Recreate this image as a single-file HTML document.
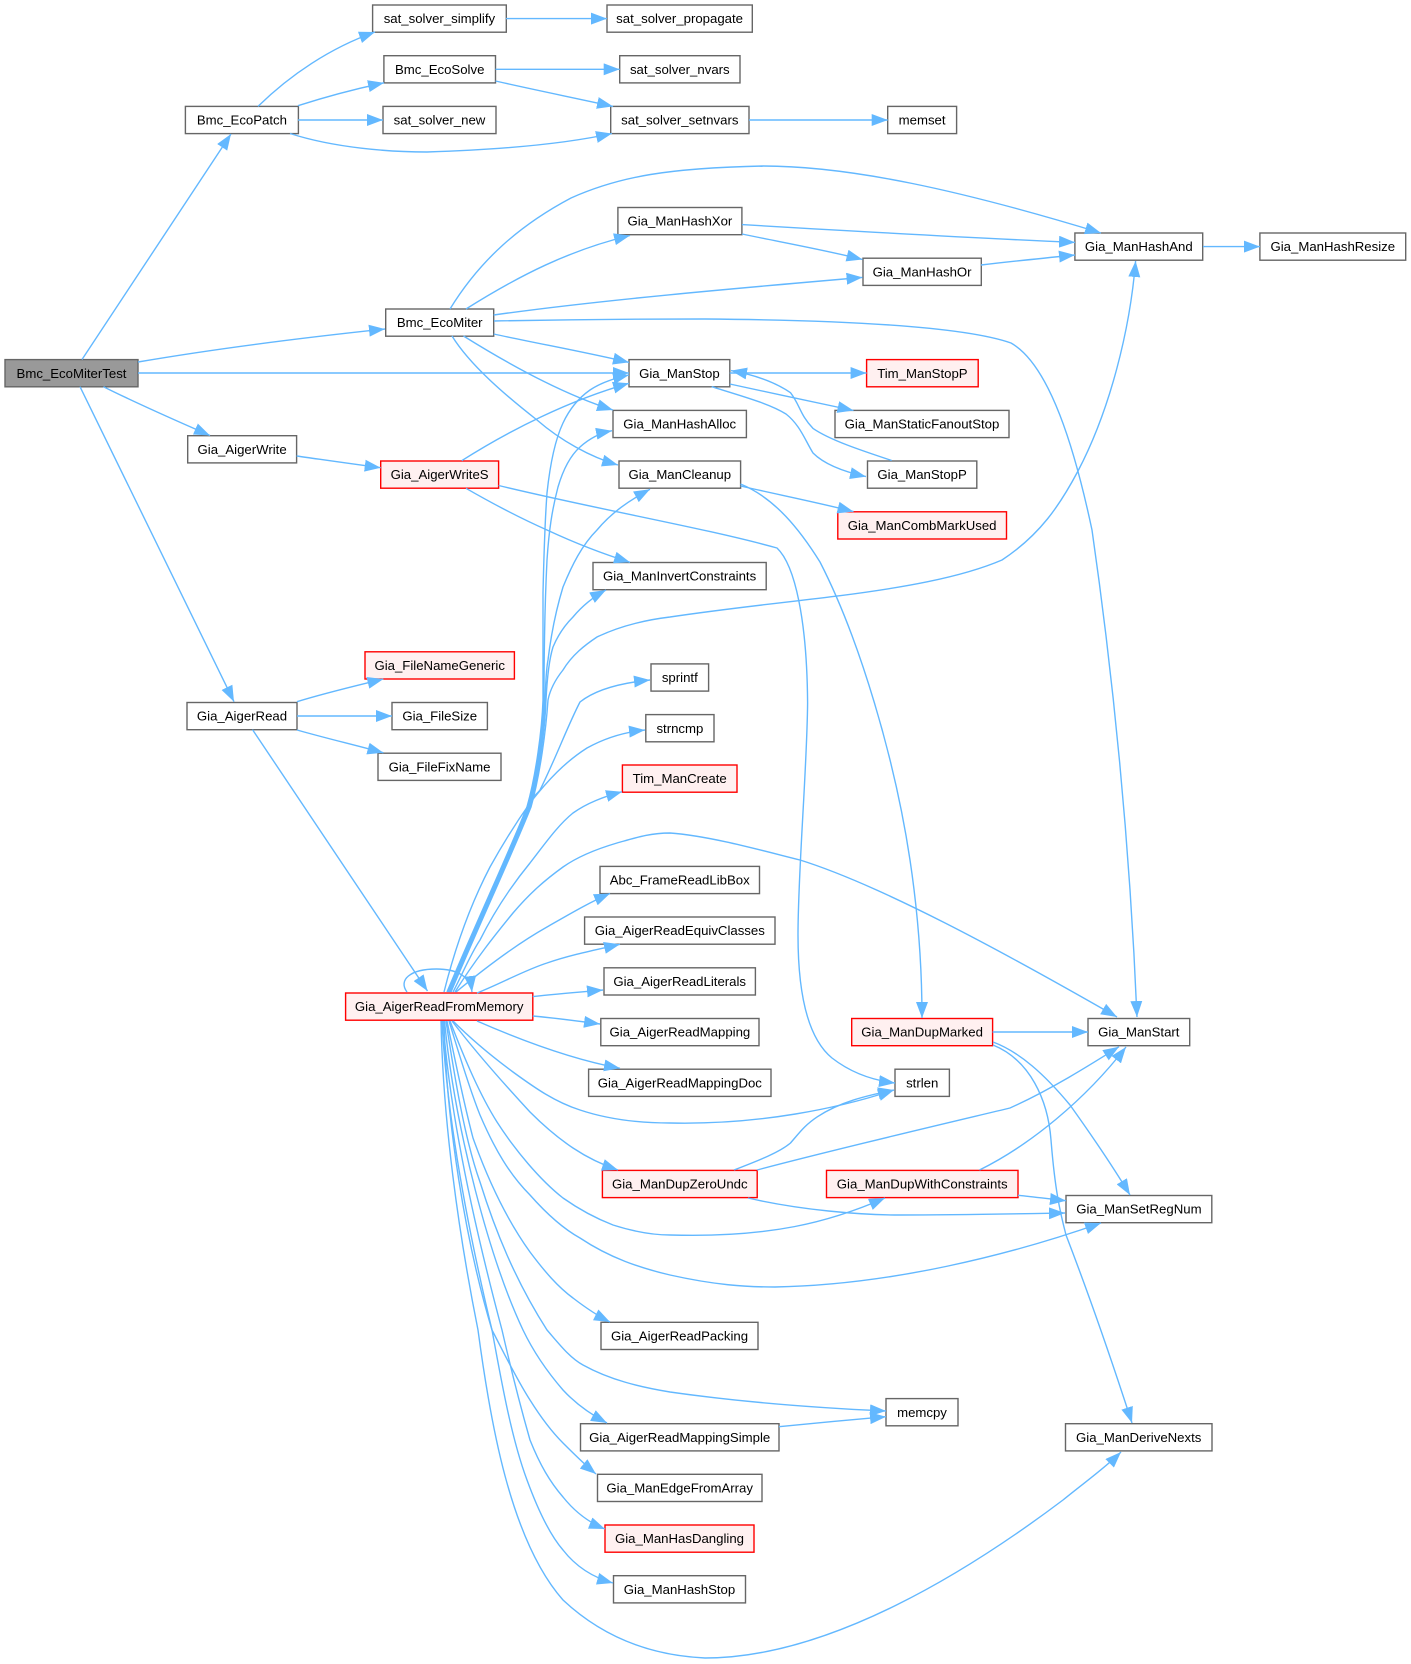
<!DOCTYPE html>
<html><head><meta charset="utf-8"><style>
html,body{margin:0;padding:0;background:#fff}
svg{display:block}
text{font-family:"Liberation Sans",Arial,sans-serif;font-size:13.2px;text-anchor:middle;fill:#000}
.n rect{fill:#fff;stroke:#666;stroke-width:1.4}
.r rect{fill:#FFF0F0;stroke:#f00;stroke-width:1.4}
.e path{fill:none;stroke:#63B8FF;stroke-width:1.4;marker-end:url(#a)}
</style></head><body>
<svg width="1411" height="1664" viewBox="0 0 1411 1664" xmlns="http://www.w3.org/2000/svg">
<defs><marker id="a" markerUnits="userSpaceOnUse" markerWidth="16" markerHeight="12" viewBox="0 0 16 12" refX="16" refY="6" orient="auto"><polygon points="0,0 16,6 0,12" fill="#63B8FF" stroke="none"/></marker></defs>
<g class="n">
<rect x="5" y="359.6" width="133" height="27.2" style="fill:#999"/>
<rect x="372.6" y="5" width="133.7" height="27.2"/>
<rect x="607" y="5" width="145.3" height="27.2"/>
<rect x="383.9" y="55.7" width="111.6" height="27.2"/>
<rect x="619.7" y="55.7" width="120.3" height="27.2"/>
<rect x="185.4" y="106.4" width="113" height="27.2"/>
<rect x="383" y="106.4" width="113" height="27.2"/>
<rect x="610.7" y="106.4" width="138.3" height="27.2"/>
<rect x="887.7" y="106.4" width="68.9" height="27.2"/>
<rect x="617.9" y="207.5" width="124" height="27.2"/>
<rect x="1074.9" y="233" width="127.8" height="27.2"/>
<rect x="1259.9" y="233" width="145.8" height="27.2"/>
<rect x="863" y="258.2" width="118.3" height="27.2"/>
<rect x="385.7" y="309" width="108" height="27.2"/>
<rect x="629" y="359.6" width="100.8" height="27.2"/>
<rect x="613" y="410.4" width="133.4" height="27.2"/>
<rect x="835" y="410.4" width="174" height="27.2"/>
<rect x="187.7" y="435.7" width="108.9" height="27.2"/>
<rect x="619" y="461" width="121.6" height="27.2"/>
<rect x="867.5" y="461" width="109.3" height="27.2"/>
<rect x="593" y="562.5" width="173.2" height="27.2"/>
<rect x="187" y="702.5" width="110" height="27.2"/>
<rect x="392" y="702.5" width="95.4" height="27.2"/>
<rect x="378" y="753.2" width="123" height="27.2"/>
<rect x="651" y="663.9" width="57.6" height="27.2"/>
<rect x="645.8" y="714.6" width="68.2" height="27.2"/>
<rect x="600" y="866.4" width="159.5" height="27.2"/>
<rect x="584.6" y="917" width="190.4" height="27.2"/>
<rect x="604" y="967.8" width="151.4" height="27.2"/>
<rect x="600.8" y="1018.5" width="158.2" height="27.2"/>
<rect x="1088" y="1018.5" width="101.7" height="27.2"/>
<rect x="588.6" y="1069.2" width="182.4" height="27.2"/>
<rect x="895" y="1069.2" width="54.4" height="27.2"/>
<rect x="1066" y="1195.5" width="145.8" height="27.2"/>
<rect x="601" y="1322.3" width="157" height="27.2"/>
<rect x="886" y="1398.6" width="72" height="27.2"/>
<rect x="580.5" y="1423.7" width="198.5" height="27.2"/>
<rect x="1065.5" y="1423.7" width="146.5" height="27.2"/>
<rect x="597.5" y="1474.3" width="164.5" height="27.2"/>
<rect x="613.5" y="1575.7" width="132" height="27.2"/>
</g>
<g class="r">
<rect x="866.6" y="359.6" width="111.6" height="27.2"/>
<rect x="380.7" y="461" width="117.9" height="27.2"/>
<rect x="837.8" y="511.8" width="168.7" height="27.2"/>
<rect x="365" y="651.8" width="149.4" height="27.2"/>
<rect x="622.4" y="765" width="114.6" height="27.2"/>
<rect x="345.6" y="993" width="187.2" height="27.2"/>
<rect x="851.7" y="1018.5" width="140.9" height="27.2"/>
<rect x="602.4" y="1170.4" width="154.8" height="27.2"/>
<rect x="826.5" y="1170.4" width="191.5" height="27.2"/>
<rect x="605" y="1525" width="149" height="27.2"/>
</g>
<g>
<text x="71.5" y="378">Bmc_EcoMiterTest</text>
<text x="439.4" y="23.2">sat_solver_simplify</text>
<text x="679.6" y="23.2">sat_solver_propagate</text>
<text x="439.7" y="73.9">Bmc_EcoSolve</text>
<text x="679.8" y="73.9">sat_solver_nvars</text>
<text x="241.9" y="124.6">Bmc_EcoPatch</text>
<text x="439.5" y="124.6">sat_solver_new</text>
<text x="679.8" y="124.6">sat_solver_setnvars</text>
<text x="922.1" y="124.6">memset</text>
<text x="679.9" y="225.7">Gia_ManHashXor</text>
<text x="1138.8" y="251.2">Gia_ManHashAnd</text>
<text x="1332.8" y="251.2">Gia_ManHashResize</text>
<text x="922.1" y="276.4">Gia_ManHashOr</text>
<text x="439.7" y="327.2">Bmc_EcoMiter</text>
<text x="679.4" y="378">Gia_ManStop</text>
<text x="922.4" y="378">Tim_ManStopP</text>
<text x="679.7" y="428.6">Gia_ManHashAlloc</text>
<text x="922" y="428.6">Gia_ManStaticFanoutStop</text>
<text x="242.1" y="453.9">Gia_AigerWrite</text>
<text x="439.6" y="479.2">Gia_AigerWriteS</text>
<text x="679.8" y="479.2">Gia_ManCleanup</text>
<text x="922.1" y="479.2">Gia_ManStopP</text>
<text x="922.1" y="530">Gia_ManCombMarkUsed</text>
<text x="679.6" y="580.7">Gia_ManInvertConstraints</text>
<text x="439.7" y="670">Gia_FileNameGeneric</text>
<text x="679.8" y="682.1">sprintf</text>
<text x="242" y="720.7">Gia_AigerRead</text>
<text x="439.7" y="720.7">Gia_FileSize</text>
<text x="679.9" y="732.8">strncmp</text>
<text x="439.5" y="771.4">Gia_FileFixName</text>
<text x="679.7" y="783.2">Tim_ManCreate</text>
<text x="679.7" y="884.6">Abc_FrameReadLibBox</text>
<text x="679.8" y="935.2">Gia_AigerReadEquivClasses</text>
<text x="679.7" y="986">Gia_AigerReadLiterals</text>
<text x="439.2" y="1011.2">Gia_AigerReadFromMemory</text>
<text x="679.9" y="1036.7">Gia_AigerReadMapping</text>
<text x="922.1" y="1036.7">Gia_ManDupMarked</text>
<text x="1138.8" y="1036.7">Gia_ManStart</text>
<text x="679.8" y="1087.4">Gia_AigerReadMappingDoc</text>
<text x="922.2" y="1087.4">strlen</text>
<text x="679.8" y="1188.6">Gia_ManDupZeroUndc</text>
<text x="922.2" y="1188.6">Gia_ManDupWithConstraints</text>
<text x="1138.9" y="1213.7">Gia_ManSetRegNum</text>
<text x="679.5" y="1340.5">Gia_AigerReadPacking</text>
<text x="922" y="1416.8">memcpy</text>
<text x="679.7" y="1441.9">Gia_AigerReadMappingSimple</text>
<text x="1138.7" y="1441.9">Gia_ManDeriveNexts</text>
<text x="679.7" y="1492.5">Gia_ManEdgeFromArray</text>
<text x="679.5" y="1543.2">Gia_ManHasDangling</text>
<text x="679.5" y="1593.9">Gia_ManHashStop</text>
</g>
<g class="e">
<path d="M82,359.5L231,134"/>
<path d="M138,362C220,348 300,338 385,329"/>
<path d="M138,373L629,373"/>
<path d="M103.5,386.7C140,405 175,420 210,435.5"/>
<path d="M80,386.7L234,701.7"/>
<path d="M258,106.4C290,75 330,48 375,32"/>
<path d="M298,105.7C325,97 355,89 384,82.8"/>
<path d="M298,120L383,120"/>
<path d="M290,133.5C335,148 390,152 427,152C490,150 560,145 612,133.5"/>
<path d="M506,18.6L607,18.6"/>
<path d="M495.5,69.3L619.7,69.3"/>
<path d="M495.5,81C535,90 575,98 613,106.4"/>
<path d="M749,120L887.7,120"/>
<path d="M450,309C480,260 520,225 571,198C620,176 670,168 763,166C850,166 960,190 1101,233"/>
<path d="M466,309C520,275 570,250 630,235.5"/>
<path d="M493.7,315C600,300 740,288 862.5,277.4"/>
<path d="M494,321C600,319 650,319 705,319C830,320 960,325 1011,343C1050,365 1075,450 1092,530C1115,690 1130,850 1137,1017"/>
<path d="M493.7,334C540,344 585,352 629,362.4"/>
<path d="M463.5,336C510,365 565,395 613,410"/>
<path d="M452,336C470,365 505,395 537,420C560,440 590,457 618,465"/>
<path d="M296.6,456C325,460 352,464 380.7,467.7"/>
<path d="M461.7,460.7C510,430 570,400 629,383.3"/>
<path d="M466,488.3C495,505 520,518 547,530C575,543 600,553 630,562.3"/>
<path d="M498.6,485.5C600,510 705,528 777,548C795,565 807,620 807.6,703C807,770 798,870 798,935C798,1000 810,1040 832,1058C850,1072 870,1080 895,1083"/>
<path d="M729.8,373L866.6,373"/>
<path d="M891.7,460.5C860,450 830,440 813,428.4C800,415 800,405 790.5,392.7C775,382 755,375 731,370.6"/>
<path d="M729.8,384C770,393 815,402 853.5,410.5"/>
<path d="M711.7,386.7C745,397 770,404 786,414C800,425 805,440 813,453C825,465 845,472 866,476.6"/>
<path d="M742,224.6C850,231 970,238 1075,242.4"/>
<path d="M742,234C780,242 825,250 862.5,259.5"/>
<path d="M981,265C1015,261 1045,258 1075,255"/>
<path d="M1203,246.6L1260,246.6"/>
<path d="M740.5,486C780,495 820,503 853.5,511.6"/>
<path d="M740.5,484C775,498 800,530 820,562C860,640 895,760 910,860C919,920 922,970 922,1018"/>
<path d="M992.6,1032L1088,1032"/>
<path d="M993,1042C1020,1052 1045,1075 1070,1105C1095,1140 1115,1170 1130,1195"/>
<path d="M993,1045C1030,1060 1048,1100 1051,1140C1055,1190 1060,1212 1066,1235C1091,1300 1110,1355 1132,1423"/>
<path d="M734,1170C760,1160 780,1152 790.5,1143C800,1132 805,1125 817.5,1116.7C840,1102 865,1096 894,1090"/>
<path d="M757,1170C840,1148 960,1120 1010,1108C1050,1090 1090,1065 1119,1046.7"/>
<path d="M748,1198C800,1210 860,1215 900,1215C960,1215 1010,1214 1065,1213"/>
<path d="M979.5,1170C1030,1145 1085,1100 1126,1047"/>
<path d="M1018,1195.3C1035,1197 1050,1199 1066,1200.7"/>
<path d="M779,1426.7C815,1423 850,1420 886,1416.7"/>
<path d="M297,701.7C325,693 355,686 383.4,679"/>
<path d="M297,716L392,716"/>
<path d="M297,730C325,738 355,745 383.4,752.8"/>
<path d="M252.5,729.6L427.5,991"/>
<path d="M407,992C398,980 410,969 436.5,969C455,969 470,975 472,992"/>
<path d="M447,992C475,925 510,850 527,807C536,775 542,730 543,700C543,640 543,610 543,593C544,550 545,520 547,493C550,465 555,440 563,423C570,408 580,397 590,390C602,382 615,378 629,375"/>
<path d="M448,992C476,925 511,850 528,807C537,775 543,730 544,700C544,650 545,600 547,560C549,530 552,510 558,487C563,470 570,456 580,447C590,438 600,433 612,430.7"/>
<path d="M449,992C477,925 512,850 529,807C538,775 544,730 545,700C546,680 546,670 548,660C551,635 556,610 563,587C572,565 582,545 597,530C612,512 630,500 650,489.3"/>
<path d="M450,992C478,925 513,850 530,807C539,775 545,730 546,700C547,680 549,660 553,647C558,635 565,625 573,617C583,605 595,596 606,590"/>
<path d="M451,992C479,925 514,850 531,807C540,775 546,730 548,700C550,690 555,680 563,670C572,655 585,645 597,637C620,626 645,620 670,617C730,608 790,602 840,595.7C900,588 960,578 1002,560C1040,535 1060,505 1078,471C1110,410 1130,330 1135.6,261"/>
<path d="M449,992C478,925 510,850 527,807C532,797 536,795 540,790C555,760 568,725 580,702C595,690 620,683 650,680"/>
<path d="M444,992C452,960 465,915 490,867C505,840 518,820 530,803C548,780 565,762 587,748C605,738 625,732 645,730"/>
<path d="M453,992C462,975 470,955 480,940C495,910 512,885 530,863C544,845 558,825 573,813C587,803 603,797 622,791.7"/>
<path d="M455,992C475,960 495,935 513,913C530,893 545,880 563,867C580,855 600,848 617,843C635,838 650,833 670,833C710,836 760,850 800,860C880,885 1000,950 1117,1017"/>
<path d="M456,992C485,968 515,945 547,927C568,915 590,902 610,893.5"/>
<path d="M477,993C500,984 525,970 547,963C570,955 595,950 620,944.3"/>
<path d="M532.8,996.6C555,994 580,992 603,990"/>
<path d="M532.8,1016C555,1018 578,1021 600,1024"/>
<path d="M477,1021C525,1042 575,1060 620,1068.3"/>
<path d="M453,1021C470,1038 490,1055 513,1072C535,1088 555,1102 580,1110C610,1120 640,1123 670,1123C760,1125 840,1108 894,1090"/>
<path d="M452,1021C478,1055 505,1085 530,1112C545,1127 558,1138 573,1148C588,1158 603,1165 618,1170"/>
<path d="M450,1021C465,1060 480,1095 497,1122C515,1150 540,1180 563,1198C580,1210 595,1218 613,1225C635,1232 655,1235 670,1235C770,1238 830,1222 885,1198"/>
<path d="M449,1021C458,1050 468,1085 480,1115C495,1150 510,1175 530,1195C545,1212 562,1228 580,1238C610,1258 640,1268 670,1275C715,1285 745,1287 775,1287C890,1285 1010,1255 1101,1223"/>
<path d="M447,1021C455,1060 463,1100 473,1138C488,1180 507,1220 530,1252C545,1272 558,1287 573,1298C586,1308 598,1316 610,1322"/>
<path d="M446,1021C455,1080 465,1140 480,1182C495,1230 515,1280 547,1330C560,1345 570,1358 583,1365C610,1380 640,1387 670,1392C740,1402 820,1408 886,1411"/>
<path d="M444.5,1021C455,1130 490,1260 523,1330C535,1355 550,1375 563,1390C575,1403 590,1414 607,1423"/>
<path d="M444,1021C446,1120 465,1240 492,1330C505,1355 517,1380 530,1400C540,1416 552,1432 563,1443C575,1455 585,1465 596,1474"/>
<path d="M443,1021C450,1120 478,1240 502,1330C510,1365 520,1405 530,1440C540,1465 550,1482 563,1497C575,1512 590,1523 605,1529"/>
<path d="M442,1021C447,1120 468,1230 492,1330C502,1385 512,1440 527,1480C538,1510 550,1535 563,1550C577,1568 595,1578 613,1583"/>
<path d="M441,1021C443,1120 458,1230 478,1330C490,1420 510,1540 563,1600C595,1630 640,1655 705,1658C830,1658 970,1570 1063,1500C1085,1482 1105,1468 1121,1452"/>
</g>
</svg>
</body></html>
